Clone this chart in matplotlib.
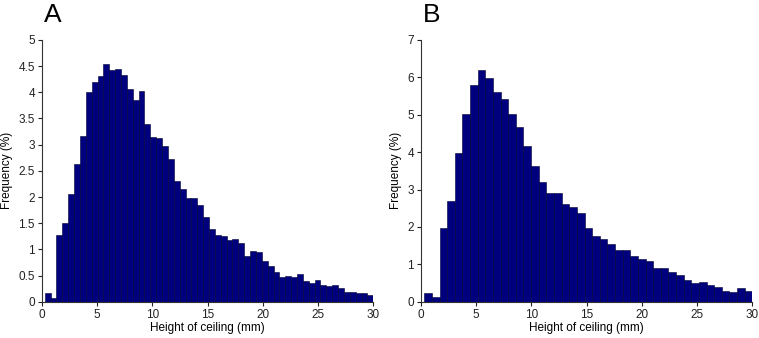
import matplotlib
matplotlib.use("Agg")
import matplotlib.pyplot as plt
from matplotlib.ticker import FuncFormatter
import numpy as np

plt.rcParams['font.family'] = ['Liberation Sans', 'DejaVu Sans']

# panel A: 56 bins between 0.25 and 30 mm
freq_a = [0.17, 0.08, 1.27, 1.50, 2.05, 2.63, 3.17, 4.00, 4.20, 4.32,
          4.55, 4.42, 4.45, 4.33, 4.07, 3.85, 4.03, 3.40, 3.15, 3.12,
          2.98, 2.72, 2.30, 2.15, 1.99, 1.99, 1.85, 1.61, 1.39, 1.28,
          1.26, 1.18, 1.19, 1.13, 0.88, 0.97, 0.94, 0.77, 0.68, 0.57,
          0.47, 0.50, 0.48, 0.52, 0.40, 0.35, 0.42, 0.31, 0.30, 0.31,
          0.27, 0.19, 0.19, 0.16, 0.16, 0.13]
edges_a = np.linspace(0.25, 30, len(freq_a) + 1)

# panel B: 43 bins between 0.3 and 30 mm
freq_b = [0.22, 0.12, 1.97, 2.69, 3.99, 5.03, 5.79, 6.19, 5.97, 5.60,
          5.43, 5.01, 4.68, 4.16, 3.63, 3.19, 2.92, 2.92, 2.62, 2.53,
          2.38, 1.98, 1.76, 1.67, 1.54, 1.38, 1.38, 1.22, 1.15, 1.10,
          0.91, 0.91, 0.80, 0.71, 0.58, 0.51, 0.54, 0.45, 0.38, 0.29,
          0.25, 0.36, 0.29]
edges_b = np.linspace(0.3, 30, len(freq_b) + 1)

panels = [("A", freq_a, edges_a, 5, np.arange(0, 5.01, 0.5)),
          ("B", freq_b, edges_b, 7, np.arange(0, 8, 1))]

fig = plt.figure(figsize=(7.59, 3.38), dpi=100)
lefts = [0.0553, 0.5547]

for left, (letter, freq, edges, ymax, yticks) in zip(lefts, panels):
    ax = fig.add_axes([left, 0.1074, 0.4365, 0.7743])
    ax.bar(edges[:-1], freq, width=np.diff(edges), align='edge',
           color='#00007f', edgecolor='#000033', linewidth=0.4)
    ax.set_xlim(0, 30)
    ax.set_ylim(0, ymax)
    ax.set_xticks(np.arange(0, 31, 5))
    ax.set_yticks(yticks)
    ax.yaxis.set_major_formatter(FuncFormatter(lambda v, p: '{:g}'.format(v)))
    for s in ['top', 'right']:
        ax.spines[s].set_visible(False)
    for s in ['left', 'bottom']:
        ax.spines[s].set_linewidth(0.8)
        ax.spines[s].set_color('#333333')
    ax.tick_params(direction='out', length=3, width=0.8, labelsize=8.5,
                   pad=2, colors='#222222')
    ax.set_xlabel("Height of ceiling (mm)", fontsize=8.5, labelpad=1)
    ax.set_ylabel("Frequency (%)", fontsize=8.5, labelpad=4)
    fig.text(left + 0.002, 0.92, letter, fontsize=19, ha='left', va='bottom')

plt.savefig("out.png", dpi=100)
